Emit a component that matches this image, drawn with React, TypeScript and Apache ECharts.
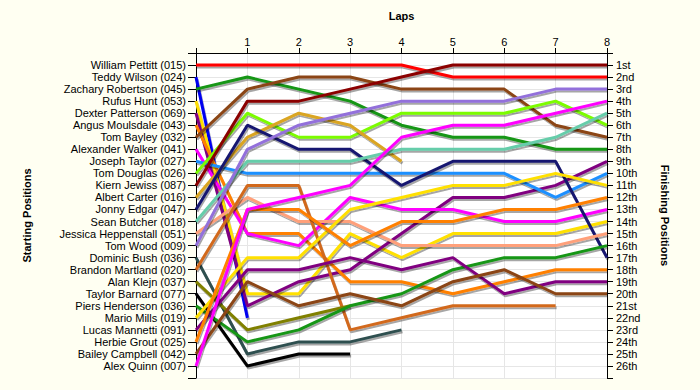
import React, { useEffect, useRef } from 'react';
import * as echarts from 'echarts';

const driverNames = [
  'William Pettitt (015)', 'Teddy Wilson (024)', 'Zachary Robertson (045)', 'Rufus Hunt (053)',
  'Dexter Patterson (069)', 'Angus Moulsdale (043)', 'Tom Bayley (032)', 'Alexander Walker (041)',
  'Joseph Taylor (027)', 'Tom Douglas (026)', 'Kiern Jewiss (087)', 'Albert Carter (016)',
  'Jonny Edgar (047)', 'Sean Butcher (018)', 'Jessica Heppenstall (051)', 'Tom Wood (009)',
  'Dominic Bush (036)', 'Brandon Martland (020)', 'Alan Klejn (037)', 'Taylor Barnard (077)',
  'Piers Henderson (036)', 'Mario Mills (019)', 'Lucas Mannetti (091)', 'Herbie Grout (025)',
  'Bailey Campbell (042)', 'Alex Quinn (007)',
];

const finishingLabels = [
  '1st', '2nd', '3rd', '4th', '5th', '6th', '7th', '8th', '9th', '10th', '11th', '12th', '13th',
  '14th', '15th', '16th', '17th', '18th', '19th', '20th', '21st', '22nd', '23rd', '24th', '25th', '26th',
];

const lapLabels = ['1', '2', '3', '4', '5', '6', '7', '8'];

// position at lap 0 (start), lap 1, lap 2 ...
const pettitt = [1, 1, 1, 1, 1, 2, 2, 2, 2];
const wilson = [2, 22];
const robertson = [3, 2, 3, 4, 6, 7, 7, 8, 8];
const hunt = [4, 20, 20, 15, 17, 15, 15, 15, 14];
const patterson = [5, 21, 19, 18, 15, 12, 12, 11, 9];
const moulsdale = [6, 15, 15, 19, 19, 20, 19, 18, 18];
const bayley = [7, 3, 2, 2, 3, 3, 3, 6, 7];
const walker = [8, 15, 16, 12, 13, 13, 14, 14, 13];
const taylor = [9, 10, 10, 10, 10, 10, 10, 12, 10];
const douglas = [10, 5, 7, 7, 5, 5, 5, 4, 6];
const jewiss = [11, 4, 4, 3, 2, 1, 1, 1, 1];
const carter = [12, 7, 5, 6, 9];
const edgar = [13, 6, 8, 8, 11, 9, 9, 9, 17];
const butcher = [14, 9, 9, 9, 8, 8, 8, 7, 5];
const heppenstall = [15, 12, 14, 14, 16, 16, 16, 16, 15];
const wood = [16, 8, 6, 5, 4, 4, 4, 3, 3];
const bush = [17, 25, 24, 24, 23];
const martland = [18, 11, 11, 23, 22, 21, 21, 21];
const klejn = [19, 23, 22, 21];
const barnard = [20, 26, 25, 25];
const henderson = [21, 24, 23, 21, 20, 18, 17, 17, 16];
const mills = [22, 17, 17, 13, 12, 11, 11, 10, 11];
const mannetti = [23, 18, 18, 17, 18, 17, 20, 19, 19];
const grout = [24, 13, 13, 16, 14, 14, 13, 13, 12];
const campbell = [25, 19, 21, 20, 21, 19, 18, 20, 20];
const quinn = [26, 13, 12, 11, 7, 6, 6, 5, 4];

const driverLaps = [
  pettitt, wilson, robertson, hunt, patterson, moulsdale, bayley, walker, taylor, douglas,
  jewiss, carter, edgar, butcher, heppenstall, wood, bush, martland, klejn, barnard,
  henderson, mills, mannetti, grout, campbell, quinn,
];

const driverColors = [
  '#FF0000', '#0000F0', '#149614', '#FFE000', '#800080', '#FF8000', '#8B4513', '#FF00FF',
  '#1E90FF', '#7CFC00', '#8B0000', '#DAA520', '#191970', '#66CDAA', '#FFA07A', '#9370DB',
  '#2F4F4F', '#D2691E', '#808000', '#000000', '#149614', '#FFE000', '#800080', '#FF8000',
  '#8B4513', '#FF00FF',
];

const FONT = '"Liberation Sans", Arial, sans-serif';

export default function App() {
  const ref = useRef<HTMLDivElement>(null);

  useEffect(() => {
    if (!ref.current) return;
    const chart = echarts.init(ref.current, undefined, { renderer: 'svg' });

    const series = driverLaps.map((laps, i) => ({
      type: 'line',
      name: driverNames[i],
      data: laps.map((p, lap) => [lap, p]),
      symbol: 'none',
      yAxisIndex: 0,
      xAxisIndex: 0,
      z: 3,
      lineStyle: {
        color: driverColors[i],
        width: 3,
        shadowColor: 'rgba(0,0,0,0.35)',
        shadowOffsetX: 1,
        shadowOffsetY: 2,
        shadowBlur: 1,
      },
      emphasis: { disabled: true },
    }));

    const option: any = {
      animation: false,
      backgroundColor: '#FFFFF2',
      textStyle: { fontFamily: FONT },
      grid: {
        left: 196,
        right: 93,
        top: 53,
        bottom: 12,
        show: true,
        backgroundColor: '#FFFFFF',
        borderWidth: 0,
      },
      xAxis: {
        type: 'value',
        position: 'top',
        min: 0,
        max: 8,
        interval: 1,
        name: 'Laps',
        nameLocation: 'middle',
        nameGap: 32,
        nameTextStyle: { fontWeight: 'bold', fontSize: 11, color: '#000', fontFamily: FONT },
        axisLine: { show: true, lineStyle: { color: '#000', width: 1 } },
        axisTick: { show: true, length: 5, lineStyle: { color: '#000' } },
        axisLabel: {
          fontSize: 11,
          color: '#000',
          margin: 6,
          fontFamily: FONT,
          formatter: (v: number) => (v >= 1 && v <= 8 ? lapLabels[v - 1] : ''),
        },
        splitLine: { show: true, lineStyle: { color: '#E6E6E6', width: 1 } },
      },
      yAxis: [
        {
          type: 'value',
          position: 'left',
          inverse: true,
          min: 0,
          max: 27,
          interval: 1,
          name: 'Starting Positions',
          nameLocation: 'middle',
          nameGap: 164,
          nameRotate: 90,
          nameTextStyle: { fontWeight: 'bold', fontSize: 11, color: '#000', fontFamily: FONT },
          axisLine: { show: true, lineStyle: { color: '#000', width: 1 } },
          axisTick: { show: true, length: 8, lineStyle: { color: '#000' } },
          axisLabel: {
            fontSize: 11,
            color: '#000',
            margin: 10,
            fontFamily: FONT,
            formatter: (v: number) => (v >= 1 && v <= 26 ? driverNames[v - 1] : ''),
          },
          splitLine: { show: true, lineStyle: { color: '#E6E6E6', width: 1 } },
        },
        {
          type: 'value',
          position: 'right',
          inverse: true,
          min: 0,
          max: 27,
          interval: 1,
          name: 'Finishing Positions',
          nameLocation: 'middle',
          nameGap: 52,
          nameRotate: -90,
          nameTextStyle: { fontWeight: 'bold', fontSize: 11, color: '#000', fontFamily: FONT },
          axisLine: { show: true, lineStyle: { color: '#000', width: 1 } },
          axisTick: { show: true, length: 6, lineStyle: { color: '#000' } },
          axisLabel: {
            fontSize: 11,
            color: '#000',
            margin: 9,
            fontFamily: FONT,
            formatter: (v: number) => (v >= 1 && v <= 26 ? finishingLabels[v - 1] : ''),
          },
          splitLine: { show: false },
        },
      ],
      series,
    };

    chart.setOption(option);
    return () => chart.dispose();
  }, []);

  return (
    <div
      ref={ref}
      style={{ position: 'absolute', left: 0, top: 0, width: 700, height: 390, background: '#FFFFF2' }}
    />
  );
}
